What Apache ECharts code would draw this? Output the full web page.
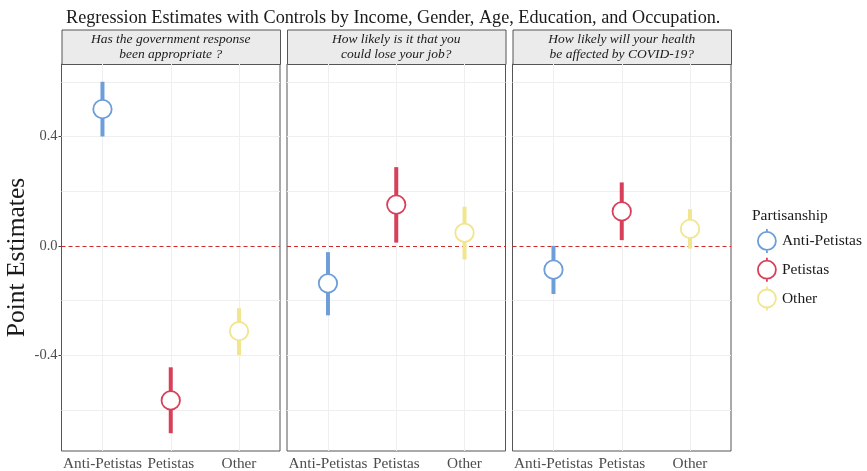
<!DOCTYPE html>
<html>
<head>
<meta charset="utf-8">
<script src="https://cdn.jsdelivr.net/npm/echarts@6/dist/echarts.min.js"></script>
<style>
  html, body { margin: 0; padding: 0; background: #fff; }
  #chart { width: 867px; height: 471px; }
</style>
</head>
<body>
<div id="chart"></div>
<script>
// Categories on the x axis of every panel
const categories = ['Anti-Petistas', 'Petistas', 'Other'];
// Facet strip titles (one per outcome question)
const panelTitles = [
  'Has the government response\nbeen appropriate ?',
  'How likely is it that you\ncould lose your job?',
  'How likely will your health\nbe affected by COVID-19?'
];
// Y axis labels
const yTickLabels = [-0.4, 0.0, 0.4];
const yGridLines = [-0.6, -0.4, -0.2, 0.2, 0.4, 0.6];

// Point estimates and confidence bounds, one value per panel
const antiEst  = [0.500, -0.137, -0.087];
const antiLow  = [0.400, -0.254, -0.176];
const antiHigh = [0.600, -0.023,  0.000];

const petEst   = [-0.565, 0.151, 0.126];
const petLow   = [-0.685, 0.012, 0.021];
const petHigh  = [-0.444, 0.288, 0.232];

const othEst   = [-0.312,  0.048,  0.062];
const othLow   = [-0.399, -0.050, -0.010];
const othHigh  = [-0.228,  0.143,  0.134];

const groups = [
  { name: 'Anti-Petistas', est: antiEst, low: antiLow, high: antiHigh, color: '#6d9ed8' },
  { name: 'Petistas',      est: petEst,  low: petLow,  high: petHigh,  color: '#d8405a' },
  { name: 'Other',         est: othEst,  low: othLow,  high: othHigh,  color: '#f1e58e' }
];

const SERIF = '"Liberation Serif", "DejaVu Serif", serif';

// Panel geometry
const panelLeft = [61.5, 287, 512.5];
const panelWidth = 218.5;
const panelTop = 64;
const panelBottom = 451;
const stripTop = 29.5;

function renderPointRange(params, api) {
  const x = api.value(0);
  const mid = api.coord([x, api.value(1)]);
  const lo = api.coord([x, api.value(2)]);
  const hi = api.coord([x, api.value(3)]);
  const color = api.visual('color');
  return {
    type: 'group',
    children: [
      { type: 'line', shape: { x1: hi[0], y1: hi[1], x2: lo[0], y2: lo[1] },
        style: { stroke: color, lineWidth: 4 } },
      { type: 'circle', shape: { cx: mid[0], cy: mid[1], r: 9.2 },
        style: { fill: '#ffffff', stroke: color, lineWidth: 1.8 } }
    ]
  };
}

const grids = [], xAxes = [], yAxes = [], series = [], graphics = [];

for (let p = 0; p < 3; p++) {
  grids.push({
    left: panelLeft[p], width: panelWidth, top: panelTop, height: panelBottom - panelTop,
    show: true, borderColor: '#555555', borderWidth: 1, backgroundColor: '#ffffff'
  });
  xAxes.push({
    type: 'value', gridIndex: p, min: 0.4, max: 3.6,
    axisLine: { show: false },
    splitLine: { show: false },
    axisTick: { show: true, customValues: [1, 2, 3], length: 3, lineStyle: { color: '#444', width: 1 } },
    axisLabel: {
      customValues: [1, 2, 3], margin: 5,
      formatter: v => categories[Math.round(v) - 1],
      fontFamily: SERIF, fontSize: 15.3, color: '#4d4d4d'
    }
  });
  yAxes.push({
    type: 'value', gridIndex: p, min: -0.75, max: 0.665,
    axisLine: { show: false },
    splitLine: { show: false },
    axisTick: { show: p === 0, customValues: yTickLabels, length: 3, lineStyle: { color: '#444', width: 1 } },
    axisLabel: {
      show: p === 0, customValues: yTickLabels, margin: 4,
      formatter: v => v.toFixed(1),
      fontFamily: SERIF, fontSize: 14.5, color: '#4d4d4d'
    },
    name: p === 0 ? 'Point Estimates' : '',
    nameLocation: 'middle', nameGap: 31, nameRotate: 90,
    nameTextStyle: { fontFamily: SERIF, fontSize: 25.5, color: '#1a1a1a' }
  });

  // background grid lines
  series.push({
    type: 'custom', xAxisIndex: p, yAxisIndex: p, z: 1, silent: true,
    renderItem: () => null, data: [],
    markLine: {
      silent: true, symbol: 'none', animation: false,
      label: { show: false },
      lineStyle: { color: '#efefef', width: 1, type: 'solid' },
      data: yGridLines.map(v => ({ yAxis: v })).concat([1, 2, 3].map(v => ({ xAxis: v })))
    }
  });
  // zero reference line
  series.push({
    type: 'custom', xAxisIndex: p, yAxisIndex: p, z: 2, silent: true,
    renderItem: () => null, data: [],
    markLine: {
      silent: true, symbol: 'none', animation: false,
      label: { show: false },
      lineStyle: { color: '#cc2a2a', width: 1.1, type: [4, 3] },
      data: [{ yAxis: 0 }]
    }
  });

  groups.forEach((g, gi) => {
    series.push({
      name: g.name, type: 'custom', xAxisIndex: p, yAxisIndex: p, z: 5,
      itemStyle: { color: g.color },
      renderItem: renderPointRange,
      encode: { x: 0, y: [1, 2, 3] },
      data: [[gi + 1, g.est[p], g.low[p], g.high[p]]]
    });
  });

  // facet strip
  graphics.push({
    type: 'rect', left: panelLeft[p], top: stripTop,
    shape: { width: panelWidth, height: panelTop - stripTop },
    style: { fill: '#ebebeb', stroke: '#555555', lineWidth: 1 }
  });
  graphics.push({
    type: 'text', x: panelLeft[p] + panelWidth / 2, y: stripTop + (panelTop - stripTop) / 2,
    style: {
      text: panelTitles[p], align: 'center', verticalAlign: 'middle',
      fontFamily: SERIF, fontStyle: 'italic', fontSize: 13.5, lineHeight: 15, fill: '#1a1a1a'
    }
  });
}

const legendIcon = 'path://M10,0 L10,3 M10,21 L10,24 M10,3 A9,9 0 1 1 9.99,3 Z';

const option = {
  animation: false,
  backgroundColor: '#ffffff',
  title: [
    { text: 'Regression Estimates with Controls by Income, Gender, Age, Education, and Occupation.',
      left: 61, top: 4,
      textStyle: { fontFamily: SERIF, fontSize: 18.2, fontWeight: 'normal', color: '#1a1a1a' } },
    { text: 'Partisanship', left: 747, top: 203,
      textStyle: { fontFamily: SERIF, fontSize: 15.5, fontWeight: 'normal', color: '#1a1a1a' } }
  ],
  legend: {
    orient: 'vertical', left: 752, top: 223,
    itemWidth: 20, itemHeight: 24, itemGap: 3,
    textStyle: { fontFamily: SERIF, fontSize: 15.5, color: '#1a1a1a' },
    data: groups.map(g => ({
      name: g.name, icon: legendIcon,
      itemStyle: { color: '#ffffff', borderColor: g.color, borderWidth: 1.8 }
    }))
  },
  grid: grids,
  xAxis: xAxes,
  yAxis: yAxes,
  series: series,
  graphic: graphics
};

echarts.init(document.getElementById('chart'), null, { renderer: 'canvas' }).setOption(option);
</script>
</body>
</html>
